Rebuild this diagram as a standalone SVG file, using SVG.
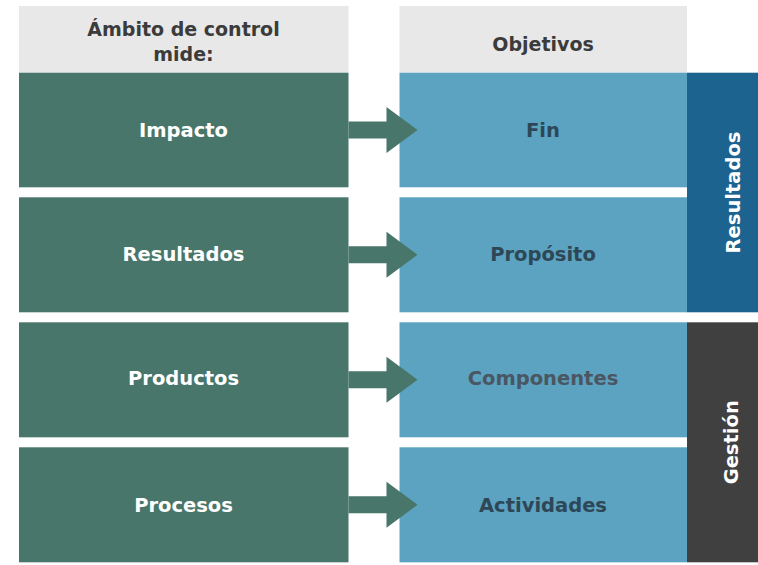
<svg xmlns="http://www.w3.org/2000/svg" width="758" height="565" viewBox="0 0 758 565">
<defs>
<style>
.hdr{fill:#e8e8e8}
.g{fill:#48766a}
.b{fill:#5ba3c0}
.t{font-family:"DejaVu Sans","Liberation Sans",sans-serif;font-weight:bold;font-size:19.5px;text-anchor:middle}
.th{fill:#3b3b3b;font-size:19px}
.tw{fill:#ffffff}
.tb{fill:#2e4757}
.arr{fill:#48766a}
</style>
<path id="arrow" d="M0,-8.5 H38 V-23 L69,0 L38,23 V8.5 H0 Z"/>
</defs>
<rect width="758" height="565" fill="#ffffff"/>
<g id="header-left"><rect class="hdr" x="19" y="6" width="329.5" height="66.5"/>
<text class="t th" x="183.5" y="36">Ámbito de control</text>
<text class="t th" x="183.5" y="61">mide:</text></g>
<g id="header-right"><rect class="hdr" x="399.5" y="6" width="287.5" height="66.5"/>
<text class="t th" x="543" y="51">Objetivos</text></g>

<g id="impacto"><rect class="g" x="19" y="72.7" width="329.5" height="114.6"/><text class="t tw" x="183.5" y="137">Impacto</text></g>
<g id="resultados-l"><rect class="g" x="19" y="197.3" width="329.5" height="115"/><text class="t tw" x="183.5" y="261">Resultados</text></g>
<g id="productos"><rect class="g" x="19" y="322.3" width="329.5" height="115"/><text class="t tw" x="183.5" y="385">Productos</text></g>
<g id="procesos"><rect class="g" x="19" y="447.3" width="329.5" height="115"/><text class="t tw" x="183.5" y="512">Procesos</text></g>

<g id="fin"><rect class="b" x="399.5" y="72.7" width="287.5" height="114.6"/><text class="t tb" x="543" y="137">Fin</text></g>
<g id="proposito"><rect class="b" x="399.5" y="197.3" width="287.5" height="115"/><text class="t tb" x="543" y="261">Propósito</text></g>
<g id="componentes"><rect class="b" x="399.5" y="322.3" width="287.5" height="115"/><text class="t" fill="#4a5662" x="543" y="385">Componentes</text></g>
<g id="actividades"><rect class="b" x="399.5" y="447.3" width="287.5" height="115"/><text class="t tb" x="543" y="512">Actividades</text></g>

<g id="resultados-bar"><rect x="687" y="72.7" width="71" height="239.6" fill="#1c638f"/>
<text class="t tw" transform="translate(740,192.5) rotate(-90)">Resultados</text></g>
<g id="gestion-bar"><rect x="687" y="322.3" width="71" height="240" fill="#404040"/>
<text class="t tw" transform="translate(738,442.3) rotate(-90)">Gestión</text></g>

<g id="connectors">
<use href="#arrow" class="arr" x="348.5" y="130"/>
<use href="#arrow" class="arr" x="348.5" y="254.8"/>
<use href="#arrow" class="arr" x="348.5" y="379.8"/>
<use href="#arrow" class="arr" x="348.5" y="504.8"/>
</g>
</svg>
